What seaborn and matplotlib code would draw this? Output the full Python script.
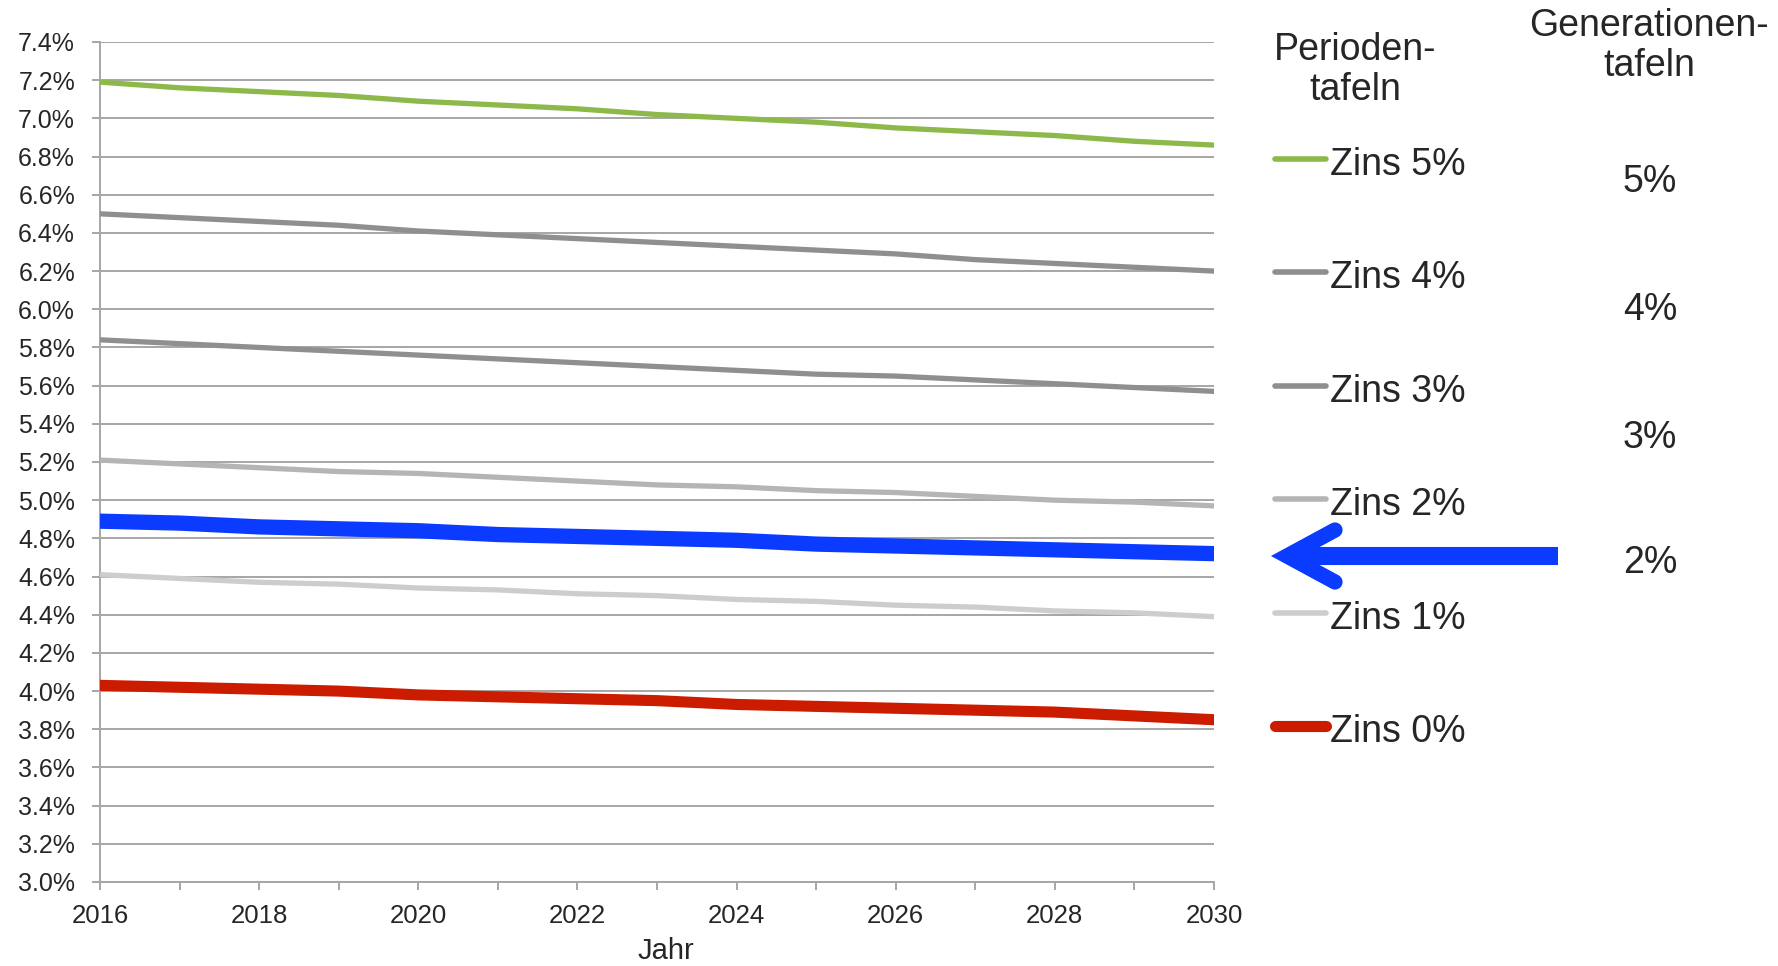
import numpy as np
import pandas as pd
import matplotlib
matplotlib.use("Agg")
import matplotlib.pyplot as plt
from matplotlib.lines import Line2D
from matplotlib.ticker import FuncFormatter, MultipleLocator
import seaborn as sns

# ---------------- data ----------------
years = list(range(2016, 2031))
zins5 = [7.19, 7.16, 7.14, 7.12, 7.09, 7.07, 7.05, 7.02, 7.00, 6.98, 6.95, 6.93, 6.91, 6.88, 6.86]
zins4 = [6.50, 6.48, 6.46, 6.44, 6.41, 6.39, 6.37, 6.35, 6.33, 6.31, 6.29, 6.26, 6.24, 6.22, 6.20]
zins3 = [5.84, 5.82, 5.80, 5.78, 5.76, 5.74, 5.72, 5.70, 5.68, 5.66, 5.65, 5.63, 5.61, 5.59, 5.57]
zins2 = [5.21, 5.19, 5.17, 5.15, 5.14, 5.12, 5.10, 5.08, 5.07, 5.05, 5.04, 5.02, 5.00, 4.99, 4.97]
gen2 = [4.89, 4.88, 4.86, 4.85, 4.84, 4.82, 4.81, 4.80, 4.79, 4.77, 4.76, 4.75, 4.74, 4.73, 4.72]
zins1 = [4.61, 4.59, 4.57, 4.56, 4.54, 4.53, 4.51, 4.50, 4.48, 4.47, 4.45, 4.44, 4.42, 4.41, 4.39]
zins0 = [4.03, 4.02, 4.01, 4.00, 3.98, 3.97, 3.96, 3.95, 3.93, 3.92, 3.91, 3.90, 3.89, 3.87, 3.85]

period_labels = ["Zins 5%", "Zins 4%", "Zins 3%", "Zins 2%", "Zins 1%", "Zins 0%"]
gen_labels = ["5%", "4%", "3%", "2%"]
header_period = "Perioden-\ntafeln"
header_gen = "Generationen-\ntafeln"
x_label = "Jahr"

series = {
    "Zins 5%": zins5, "Zins 4%": zins4, "Zins 3%": zins3, "Zins 2%": zins2,
    "Zins 1%": zins1, "Zins 0%": zins0, "Generationentafel 2%": gen2,
}
colors = {
    "Zins 5%": "#8DB84A", "Zins 4%": "#8F8F8F", "Zins 3%": "#8F8F8F", "Zins 2%": "#B5B5B5",
    "Zins 1%": "#CDCDCD", "Zins 0%": "#CC1C00", "Generationentafel 2%": "#0B3BFF",
}
widths = {
    "Zins 5%": 3.8, "Zins 4%": 3.8, "Zins 3%": 3.8, "Zins 2%": 3.8,
    "Zins 1%": 3.8, "Zins 0%": 8.0, "Generationentafel 2%": 11.0,
}

df = pd.DataFrame([(s, y, v) for s, vals in series.items() for y, v in zip(years, vals)],
                  columns=["Serie", "Jahr", "Wert"])

# ---------------- figure ----------------
sns.set_style("white")
plt.rcParams["font.family"] = ["Liberation Sans", "DejaVu Sans"]

W, H = 1778, 966
fig = plt.figure(figsize=(W / 100, H / 100), dpi=100)
ax = fig.add_axes([100 / W, 1 - 882 / H, (1214 - 100) / W, 840 / H])

sns.lineplot(data=df, x="Jahr", y="Wert", hue="Serie", size="Serie",
             palette=colors, sizes=widths, legend=False, ax=ax, zorder=3)

grid_c = "#A6A6A6"
ax.set_xlim(2016, 2030)
ax.set_ylim(3.0, 7.4)
ax.yaxis.set_major_locator(MultipleLocator(0.2))
ax.yaxis.set_major_formatter(FuncFormatter(lambda v, p: f"{v:.1f}%"))
ax.set_xticks(years)
ax.set_xticklabels([str(y) if y % 2 == 0 else "" for y in years])
ax.grid(axis="y", color=grid_c, lw=1.4, zorder=0)
ax.grid(axis="x", visible=False)
for s in ["top", "right"]:
    ax.spines[s].set_visible(False)
for s in ["left", "bottom"]:
    ax.spines[s].set_color(grid_c)
    ax.spines[s].set_linewidth(1.4)
ax.tick_params(axis="y", length=6, width=1.4, color=grid_c, labelsize=18, pad=12, left=True)
ax.tick_params(axis="x", length=6, width=1.4, color=grid_c, labelsize=18.5, pad=10, bottom=True)
ax.set_xlabel(x_label, fontsize=21, va="center")
ax.xaxis.set_label_coords((666 - 100) / 1114, -(951 - 882) / 840)
ax.set_ylabel("")

# ---------------- legend-like annotations ----------------
def fx(px):
    return px / W

def fy(py):
    return 1 - py / H

fig.text(fx(1355), fy(70), header_period, ha="center", va="center", fontsize=27,
         multialignment="center", linespacing=1.12)
fig.text(fx(1649), fy(46), header_gen, ha="center", va="center", fontsize=27,
         multialignment="center", linespacing=1.12)

leg_y = [159, 272, 386, 499, 613, 726]
for lab, yy in zip(period_labels, leg_y):
    lw = 8.0 if lab == "Zins 0%" else 4.0
    fig.add_artist(Line2D([fx(1275), fx(1326)], [fy(yy), fy(yy)], transform=fig.transFigure,
                          color=colors[lab], lw=lw, solid_capstyle="round"))
    fig.text(fx(1330), fy(yy + 6), lab, ha="left", va="center", fontsize=27)

gen_y = [182, 310, 438, 563]
for lab, yy in zip(gen_labels, gen_y):
    fig.text(fx(1650), fy(yy), lab, ha="center", va="center", fontsize=27)

# arrow
blue = colors["Generationentafel 2%"]
fig.add_artist(Line2D([fx(1558), fx(1292)], [fy(556), fy(556)], transform=fig.transFigure,
                      color=blue, lw=13, solid_capstyle="butt"))
fig.add_artist(Line2D([fx(1335), fx(1287), fx(1335)], [fy(530), fy(556), fy(582)],
                      transform=fig.transFigure, color=blue, lw=11,
                      solid_capstyle="round", solid_joinstyle="miter"))

fig.savefig("out.png", dpi=100)
